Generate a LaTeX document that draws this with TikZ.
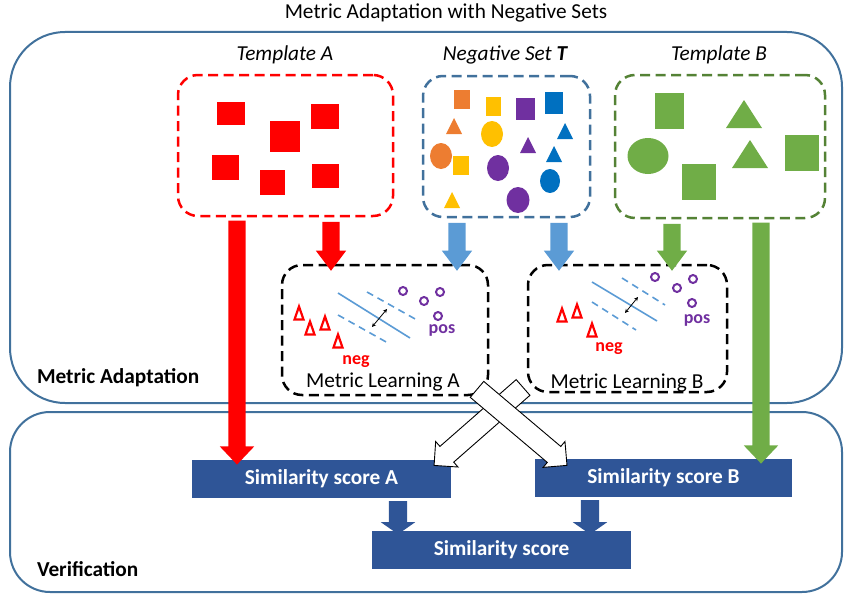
\documentclass[tikz,border=0pt]{standalone}
\usepackage{fontspec}
\setmainfont{Carlito}
\usetikzlibrary{arrows.meta,shapes.arrows,calc}
\definecolor{frameblue}{HTML}{41719C}
\definecolor{negblue}{HTML}{41719C}
\definecolor{tgreen}{HTML}{548235}
\definecolor{sgreen}{HTML}{70AD47}
\definecolor{sorange}{HTML}{ED7D31}
\definecolor{syellow}{HTML}{FFC000}
\definecolor{spurple}{HTML}{7030A0}
\definecolor{sblue}{HTML}{0070C0}
\definecolor{lblue}{HTML}{5B9BD5}
\definecolor{simblue}{HTML}{2F5597}
\newcommand\fs{\fontsize{21.3}{25}\selectfont}
\newcommand\fsm{\fontsize{18}{21}\selectfont}
\newcommand\ftri[5]{\fill[#1] ({#2-#4/2},{#3+#5/2}) -- ({#2},{#3-#5/2}) -- ({#2+#4/2},{#3+#5/2}) -- cycle;}
\newcommand\otri[2]{\draw[negtri] ({#1-4.5},{#2+6.5}) -- ({#1},{#2-6.5}) -- ({#1+4.5},{#2+6.5}) -- cycle;}
\newcommand\barrow[3]{\path let \p1=(#2), \p2=(#3), \n1={atan2(\y2-\y1,\x2-\x1)}, \n2={veclen(\x2-\x1,\y2-\y1)} in node[#1, rotate=\n1, minimum height=\n2] at ($(\p1)!0.5!(\p2)$) {};}
\begin{document}
\begin{tikzpicture}[x=1pt,y=-1pt,
  every node/.style={inner sep=0pt, outer sep=0pt},
  container/.style={draw=frameblue, line width=2pt, rounded corners=#1},
  tbox/.style={draw=#1, line width=2.5pt, dash pattern=on 10pt off 5.5pt, rounded corners=20pt},
  mlbox/.style={draw=black, line width=2.5pt, dash pattern=on 10pt off 5.5pt, rounded corners=20pt},
  simbox/.style={fill=simblue, text=white, font=\fs\bfseries, minimum height=38pt},
  negtri/.style={draw=red, line width=2.2pt},
  poscirc/.style={draw=spurple, line width=2pt},
  sepline/.style={draw=lblue, line width=1.6pt},
  sepdash/.style={draw=lblue, line width=1.6pt, dash pattern=on 7pt off 5pt},
  marg/.style={draw=black, line width=0.8pt, {Stealth[length=4pt,width=4pt]}-{Stealth[length=4pt,width=4pt]}},
  bigarr/.style={single arrow, fill=#1, inner xsep=0pt, inner ysep=8.5pt, single arrow head extend=8.5pt, single arrow tip angle=87},
  smallarr/.style={single arrow, fill=#1, inner xsep=0pt, inner ysep=8.5pt, single arrow head extend=6.5pt, single arrow tip angle=74},
  darr/.style={single arrow, fill=simblue, inner xsep=0pt, inner ysep=9pt, single arrow head extend=8pt, single arrow tip angle=110},
  warr/.style={single arrow, fill=white, draw=black, line width=0.9pt, inner xsep=0pt, inner ysep=10pt, single arrow head extend=6.5pt, single arrow tip angle=90}
]
\useasboundingbox (0,0) rectangle (845,594);
% containers
\node[container=55pt, minimum width=832pt, minimum height=371pt] (ma) at (426,217.5) {};
\node[container=40pt, minimum width=832pt, minimum height=180pt] (ver) at (426,502) {};
\node[font=\fs] (title) at (446,13) {Metric Adaptation with Negative Sets};
\node[font=\fs\bfseries, anchor=west] (malab) at (37,378) {Metric Adaptation};
\node[font=\fs\bfseries, anchor=west] (vlab) at (37,569) {Verification};
% template boxes
\node[tbox=red, minimum width=215pt, minimum height=141pt] (tA) at (285.5,145.5) {};
\node[font=\fs\itshape] (tAlab) at (285,55) {Template A};
\node[tbox=negblue, minimum width=167pt, minimum height=141pt] (neg) at (506.5,146.5) {};
\node[font=\fs\itshape] (neglab) at (505,55) {Negative Set \textbf{T}};
\node[tbox=tgreen, minimum width=210pt, minimum height=143pt] (tB) at (720,146.5) {};
\node[font=\fs\itshape] (tBlab) at (719,55) {Template B};
% template A shapes
\fill[red] (217,102) rectangle (245,125);
\fill[red] (270,121) rectangle (300,152);
\fill[red] (311,104) rectangle (339,129);
\fill[red] (212,155) rectangle (239,180);
\fill[red] (260,170) rectangle (285,195);
\fill[red] (312,164) rectangle (339,188);
% negative set shapes
\fill[sorange] (454,90) rectangle (470,109);
\fill[syellow] (486,97) rectangle (501,116);
\fill[spurple] (516,98) rectangle (535,120);
\fill[sblue] (545,92) rectangle (563,114);
\ftri{sorange}{454}{126}{16}{16}
\fill[syellow] (492,134) ellipse [x radius=11, y radius=13];
\ftri{sblue}{565}{131}{16}{16}
\ftri{spurple}{528}{145}{16}{16}
\fill[sorange] (441,156) ellipse [x radius=11, y radius=13];
\fill[syellow] (453,156) rectangle (469,175);
\fill[spurple] (498,168) ellipse [x radius=11, y radius=13];
\ftri{sblue}{554}{154}{16}{16}
\fill[sblue] (550,181) ellipse [x radius=10, y radius=12];
\fill[spurple] (518,200) ellipse [x radius=11.5, y radius=13];
\ftri{syellow}{452}{200}{16}{16}
% template B shapes
\fill[sgreen] (655,93) rectangle (684,129);
\ftri{sgreen}{744}{114}{36}{28}
\fill[sgreen] (648,156) ellipse [x radius=20.5, y radius=18];
\ftri{sgreen}{750}{154}{36}{28}
\fill[sgreen] (785,135) rectangle (819,171);
\fill[sgreen] (682,164) rectangle (716,200);
% metric learning boxes
\node[mlbox, minimum width=206pt, minimum height=130pt] (mlA) at (385,330) {};
\node[font=\fs] (mlAlab) at (383,382) {Metric Learning A};
\node[mlbox, minimum width=199pt, minimum height=127pt] (mlB) at (627.5,328.5) {};
\node[font=\fs] (mlBlab) at (627,383) {Metric Learning B};
% ML A content
\otri{299}{313}\otri{310}{328}\otri{325}{323}\otri{338}{341}
\node[font=\fsm\bfseries, text=red] (negA) at (356,362) {neg};
\node[font=\fsm\bfseries, text=spurple] (posA) at (442,330) {pos};
\draw[poscirc] (403,291) circle [radius=4];
\draw[poscirc] (424,301) circle [radius=4];
\draw[poscirc] (440,292) circle [radius=4];
\draw[poscirc] (438,316) circle [radius=4];
\draw[sepline] (338,293) -- (410,338);
\draw[sepdash] (367,292) -- (417,320);
\draw[sepdash] (338,315) -- (388,343);
\draw[marg] (372,327) -- (387,309);
% ML B content
\otri{562}{315}\otri{577}{311}\otri{592}{330}
\node[font=\fsm\bfseries, text=red] (negB) at (609,349) {neg};
\node[font=\fsm\bfseries, text=spurple] (posB) at (697,320) {pos};
\draw[poscirc] (655,277) circle [radius=4];
\draw[poscirc] (677,288) circle [radius=4];
\draw[poscirc] (693,279) circle [radius=4];
\draw[poscirc] (692,303) circle [radius=4];
\draw[sepline] (592,282) -- (657,321);
\draw[sepdash] (622,278) -- (665,305);
\draw[sepdash] (592,302) -- (636,330);
\draw[marg] (625,313) -- (638,297);
% similarity boxes
\node[simbox, minimum width=259pt] (simA) at (321.5,479) {Similarity score A};
\node[simbox, minimum width=257pt] (simB) at (663.5,478) {Similarity score B};
\node[simbox, minimum width=259pt] (sim) at (501.5,550) {Similarity score};
% arrow x positions
\coordinate (xr) at (237,0);
\coordinate (xrs) at (331,0);
\coordinate (xb1) at (457,0);
\coordinate (xb2) at (559,0);
\coordinate (xgs) at (672,0);
\coordinate (xg) at (761,0);
\coordinate (xd1) at (398,0);
\coordinate (xd2) at (590,0);
\barrow{bigarr=red}{tA.south -| xr}{simA.north -| xr}
\barrow{smallarr=red}{tA.south -| xrs}{mlA.north -| xrs}
\barrow{smallarr=lblue}{neg.south -| xb1}{mlA.north -| xb1}
\barrow{smallarr=lblue}{neg.south -| xb2}{mlB.north -| xb2}
\barrow{smallarr=sgreen}{tB.south -| xgs}{mlB.north -| xgs}
\barrow{bigarr=sgreen}{tB.south -| xg}{simB.north -| xg}
\barrow{darr}{simA.south -| xd1}{sim.north -| xd1}
\barrow{darr}{simB.south -| xd2}{sim.north -| xd2}
% crossing arrows
\coordinate (wA) at ([xshift=-15pt, yshift=9pt]mlA.south east);
\coordinate (wAt) at ([xshift=28pt, yshift=-3pt]simB.north west);
\coordinate (wB) at ([xshift=-1pt, yshift=8pt]mlB.south west);
\coordinate (wBt) at ([xshift=-13pt, yshift=-2pt]simA.north east);
\barrow{warr}{wB}{wBt}
\barrow{warr}{wA}{wAt}
\end{tikzpicture}
\end{document}
